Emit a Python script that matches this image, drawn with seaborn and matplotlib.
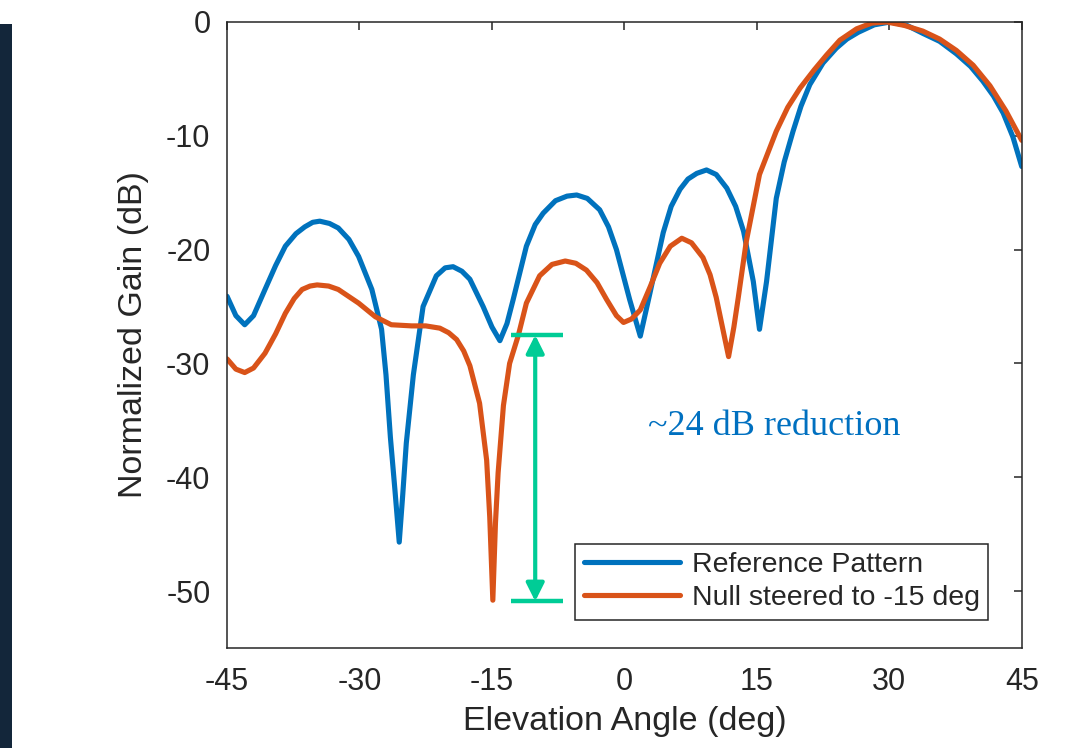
import numpy as np
import pandas as pd
import seaborn as sns
import matplotlib
matplotlib.use("Agg")
import matplotlib.pyplot as plt
from matplotlib.patches import Rectangle

# values (deg, dB)
ref_angle = [-45.0, -44.0, -43.0, -42.0, -40.7, -39.5, -38.4, -37.2, -36.2, -35.3, -34.5,
             -33.4, -32.4, -31.2, -30.1, -28.6, -27.5, -27.0, -26.5, -26.0, -25.5,
             -25.1, -24.7, -23.9, -22.8, -21.3, -20.3, -19.4, -18.4, -17.5, -16.0,
             -15.0, -14.1, -13.3, -12.6, -11.1, -10.1, -9.2, -7.8, -6.5, -5.4,
             -4.2, -2.8, -1.8, -0.9, 0.6, 1.8, 2.9, 4.4, 5.3, 6.3, 7.2, 8.2, 9.3,
             10.4, 11.6, 12.6, 13.5, 14.6, 15.3, 16.1, 17.2, 18.1, 19.1,
             20.0, 21.0, 22.5, 24.0, 25.2, 26.5, 28.3, 30.1, 32.0, 33.8, 35.7, 37.6,
             39.2, 40.6, 41.8, 42.9, 44.0, 45.0]
ref_gain = [-24.1, -25.8, -26.6, -25.8, -23.5, -21.4, -19.7, -18.6, -18.0, -17.6, -17.5,
            -17.7, -18.1, -19.1, -20.6, -23.5, -27.0, -31.0, -36.5, -41.0, -45.7,
            -41.5, -37.0, -31.0, -25.0, -22.3, -21.6, -21.5, -21.9, -22.6, -25.0,
            -26.8, -28.0, -26.5, -24.4, -19.7, -17.8, -16.8, -15.7, -15.3, -15.2,
            -15.5, -16.5, -18.0, -20.0, -24.4, -27.6, -23.8, -18.5, -16.2, -14.7, -13.8, -13.3, -13.0,
            -13.4, -14.6, -16.2, -18.4, -22.8, -27.0, -22.8, -15.5, -12.3, -9.6,
            -7.4, -5.5, -3.6, -2.3, -1.5, -0.9, -0.25, 0.0, -0.3, -1.0, -1.7, -2.8,
            -3.9, -5.2, -6.5, -8.0, -10.1, -12.7]

null_angle = [-45.0, -44.0, -43.0, -42.0, -40.7, -39.5, -38.4, -37.4, -36.5, -35.6, -34.8,
              -33.5, -32.4, -30.1, -28.2, -26.4, -24.1, -22.5, -20.9, -19.9, -19.0,
              -18.2, -17.5, -16.4, -15.6, -15.25, -14.9, -14.6, -14.3, -13.7, -13.0,
              -12.0, -11.1, -9.6, -8.2, -6.7, -5.5, -4.3, -3.1, -2.0, -0.9,
              -0.1, 0.8, 1.8, 2.9, 4.0, 5.2, 6.5, 7.6, 8.9, 9.7,
              10.4, 11.1, 11.8, 12.4, 12.9, 13.8, 15.3, 17.2, 18.5, 19.9,
              21.5, 22.9, 24.4, 26.3, 28.0, 29.7, 31.7, 33.8, 35.7, 37.6,
              39.5, 41.4, 43.2, 45.0]
null_gain = [-29.6, -30.5, -30.8, -30.4, -29.1, -27.4, -25.6, -24.3, -23.5, -23.2, -23.1,
             -23.2, -23.5, -24.7, -25.9, -26.6, -26.7, -26.7, -26.9, -27.3, -27.9,
             -28.9, -30.2, -33.5, -38.5, -43.5, -50.8, -44.0, -39.6, -33.7, -30.0,
             -27.5, -24.7, -22.3, -21.3, -21.0, -21.2, -21.8, -22.9, -24.4, -25.8,
             -26.4, -26.1, -25.3, -23.3, -21.2, -19.7, -19.0, -19.4, -20.7, -22.2,
             -24.2, -26.8, -29.4, -26.8, -24.2, -19.3, -13.4, -9.6, -7.5, -5.8,
             -4.2, -2.9, -1.6, -0.6, -0.1, 0.0, -0.3, -0.8, -1.5, -2.5,
             -3.8, -5.6, -7.8, -10.4]

series_names = ["Reference Pattern", "Null steered to -15 deg"]
series_colors = ["#0072BD", "#D95319"]
x_ticks = [-45, -30, -15, 0, 15, 30, 45]
y_ticks = [-50, -40, -30, -20, -10, 0]

df = pd.concat([
    pd.DataFrame({"angle": ref_angle, "gain": ref_gain, "series": series_names[0]}),
    pd.DataFrame({"angle": null_angle, "gain": null_gain, "series": series_names[1]}),
])

sns.set_theme(style="white")
plt.rcParams["font.family"] = ["Liberation Sans", "DejaVu Sans"]
plt.rcParams["axes.unicode_minus"] = False
text_col = "#262626"

fig = plt.figure(figsize=(10.71, 7.48), dpi=100)
ax = fig.add_axes([0.212, 0.1337, 0.742, 0.8369])

sns.lineplot(data=df, x="angle", y="gain", hue="series", hue_order=series_names,
             palette=series_colors, linewidth=3.7, estimator=None, sort=False, ax=ax,
             solid_joinstyle="round", solid_capstyle="round")

ax.set_xlim(-45, 45)
ax.set_ylim(-55, 0)
ax.set_xticks(x_ticks)
ax.set_yticks(y_ticks)
ax.tick_params(direction="in", length=6, width=1.1, top=True, right=True,
               labelsize=22, colors=text_col)
ax.tick_params(axis="y", pad=12)
ax.tick_params(axis="x", pad=14)
for s in ax.spines.values():
    s.set_visible(True)
    s.set_color(text_col)
    s.set_linewidth(1.1)
ax.set_xlabel("Elevation Angle (deg)", fontsize=24.5, color=text_col, labelpad=6)
ax.set_ylabel("Normalized Gain (dB)", fontsize=24.5, color=text_col, labelpad=12)

# green marker showing the null depth difference
green = "#00CC96"
arrow_x = -10.1
top_db, bot_db = -27.5, -50.9
ax.hlines([top_db, bot_db], -12.8, -7.0, color=green, linewidth=3.2, zorder=4)
ax.annotate("", xy=(arrow_x, bot_db), xytext=(arrow_x, top_db),
            arrowprops=dict(arrowstyle="<|-|>,head_length=0.9,head_width=0.45",
                            color=green, lw=3.0, shrinkA=0, shrinkB=0), zorder=4)
ax.text(17.0, -35.5, "~24 dB reduction", family=["Liberation Serif", "DejaVu Serif"],
        fontsize=26, color="#0070C0", ha="center", va="center")

leg = ax.legend(loc="lower right", bbox_to_anchor=(0.958, 0.045), fontsize=20.5,
                frameon=True, fancybox=False, framealpha=1, edgecolor=text_col,
                handlelength=3.4, borderpad=0.3, labelspacing=0.25, handletextpad=0.4,
                borderaxespad=0)
leg.get_frame().set_linewidth(1.1)
for t in leg.get_texts():
    t.set_color(text_col)

# dark strip at the left edge of the screenshot
fig.patches.append(Rectangle((0, 0), 12 / 1071, 724 / 748, transform=fig.transFigure,
                             facecolor="#13263a", edgecolor="none", zorder=0))

fig.savefig("out.png", dpi=100)
